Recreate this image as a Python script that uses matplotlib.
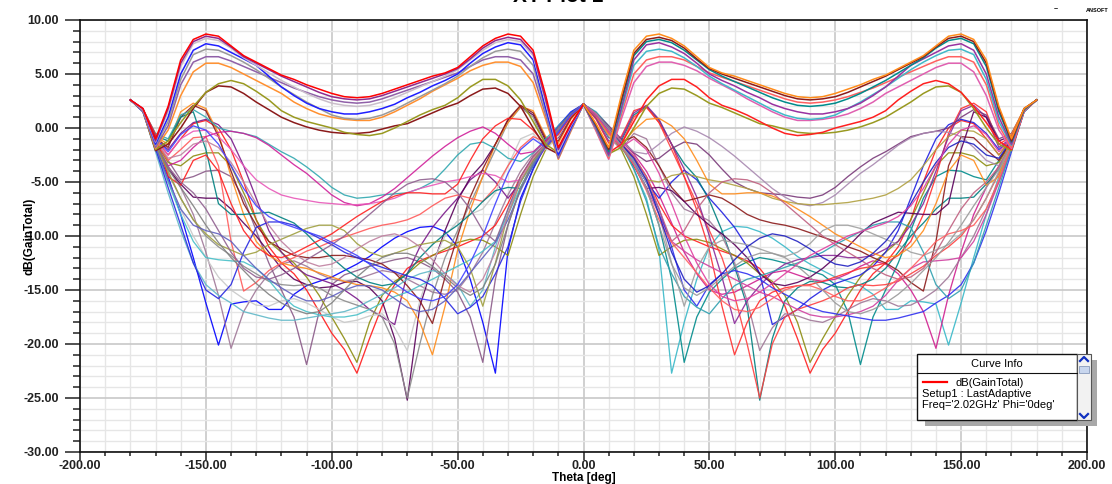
import matplotlib.pyplot as plt
from matplotlib.patches import Rectangle
from matplotlib.lines import Line2D
from matplotlib.ticker import MultipleLocator, FormatStrFormatter

plt.rcParams['font.family'] = ['Liberation Sans', 'DejaVu Sans']
plt.rcParams['font.weight'] = 'bold'

W, H = 1112, 484

# theta samples of the left half (deg); the right half is its mirror image
theta = list(range(-180, 5, 5))

# upper curves: lobes near -150 and -30
up_1 = [2.6, 1.8, -1.0, 2.0, 6.3, 8.2, 8.7, 8.5, 7.6,
        6.7, 6.1, 5.5, 4.9, 4.5, 4.0, 3.6, 3.2, 2.9,
        2.8, 2.9, 3.2, 3.6, 4.0, 4.4, 4.8, 5.1, 5.6,
        6.6, 7.6, 8.3, 8.7, 8.5, 7.2, 3.0, -1.8, 0.4, 2.2]
up_2 = [2.6, 1.8, -1.2, 1.8, 6.0, 8.0, 8.5, 8.3, 7.5,
        6.6, 6.0, 5.4, 4.8, 4.3, 3.8, 3.3, 2.9, 2.7,
        2.6, 2.7, 3.0, 3.4, 3.8, 4.2, 4.6, 5.0, 5.5,
        6.4, 7.4, 8.1, 8.4, 8.2, 6.9, 2.6, -2.0, 0.3, 2.2]
up_3 = [2.6, 1.7, -1.3, 1.5, 5.7, 7.8, 8.3, 8.1, 7.4,
        6.5, 5.8, 5.1, 4.4, 3.8, 3.2, 2.7, 2.3, 2.1,
        2.0, 2.1, 2.4, 2.8, 3.3, 3.8, 4.3, 4.8, 5.4,
        6.3, 7.2, 7.9, 8.2, 8.0, 6.7, 2.3, -2.2, 0.2, 2.2]
up_4 = [2.6, 1.7, -1.5, 1.0, 5.0, 7.2, 7.8, 7.6, 7.0,
        6.4, 5.8, 4.8, 3.8, 3.0, 2.3, 1.8, 1.5, 1.3,
        1.3, 1.5, 1.8, 2.2, 2.8, 3.3, 3.9, 4.4, 5.0,
        6.0, 6.9, 7.5, 7.9, 7.7, 6.3, 1.8, -2.5, 0.0, 2.2]
up_5 = [2.6, 1.7, -1.6, 0.6, 4.5, 6.8, 7.3, 7.2, 6.7,
        6.1, 5.4, 4.6, 3.8, 3.1, 2.4, 1.8, 1.2, 0.9,
        0.8, 0.9, 1.2, 1.7, 2.3, 2.9, 3.5, 4.1, 4.8,
        5.7, 6.5, 7.1, 7.3, 7.1, 5.8, 1.5, -2.6, -0.1, 2.2]
up_6 = [2.6, 1.6, -1.8, 0.2, 4.0, 6.1, 6.6, 6.6, 6.2,
        5.7, 5.2, 4.7, 4.2, 3.7, 3.3, 2.9, 2.6, 2.4,
        2.3, 2.4, 2.7, 3.1, 3.5, 3.9, 4.3, 4.7, 5.1,
        5.7, 6.3, 6.6, 6.6, 6.3, 5.0, 1.2, -2.8, -0.2, 2.2]
up_7 = [2.6, 1.6, -1.9, -0.2, 3.0, 5.2, 6.0, 6.0, 5.6,
        5.0, 4.4, 3.8, 3.2, 2.4, 1.8, 1.3, 1.0, 0.8,
        0.7, 0.7, 1.0, 1.5, 2.1, 2.7, 3.4, 4.0, 4.6,
        5.3, 5.8, 6.1, 6.1, 5.7, 4.2, 0.8, -2.9, -0.3, 2.2]
up_8 = [2.6, 1.6, -2.0, -1.2, 0.5, 2.0, 3.3, 4.1, 4.4,
        4.1, 3.4, 2.6, 1.6, 1.0, 0.6, 0.3, 0.0, -0.4,
        -0.6, -0.7, -0.5, 0.0, 0.6, 1.2, 1.7, 2.1, 2.8,
        3.8, 4.5, 4.5, 3.9, 2.6, 0.6, -1.5, -2.3, 0.0, 2.2]
up_9 = [2.6, 1.6, -2.1, -1.5, 0.0, 1.8, 3.3, 3.9, 3.8,
        3.2, 2.4, 1.7, 1.0, 0.5, 0.1, -0.2, -0.4, -0.5,
        -0.5, -0.4, -0.1, 0.2, 0.4, 0.9, 1.4, 1.9, 2.3,
        3.0, 3.6, 3.7, 3.2, 2.0, 0.0, -1.8, -2.4, 0.0, 2.2]

upper = [up_9, up_8, up_7, up_6, up_5, up_4, up_3, up_2, up_1]
upper_left_colors = ['#8B1A1A', '#999920', '#FF9030', '#9060A8', '#9A9A9A',
                     '#1F1FFF', '#CABECA', '#8E2A8E', '#FF0000']
upper_right_colors = ['#999920', '#FF2020', '#E060B0', '#FF6060', '#40B8C8',
                      '#9932A0', '#008B8B', '#8B1A1A', '#FF8C1A']

# lower curves
low_1 = [2.6, 1.5, -1.8, -4.5, -8.0, -12.0, -16.2, -20.1, -16.3,
         -16.1, -16.0, -16.8, -16.8, -15.4, -14.6, -14.2, -13.8, -13.2,
         -12.6, -11.9, -11.0, -10.2, -9.6, -9.2, -9.1, -9.6, -11.0,
         -14.0, -18.0, -22.7, -11.3, -6.5, -3.8, -1.4, 0.2, 1.5, 2.2]
low_2 = [2.6, 1.6, -1.5, -3.5, -5.5, -8.0, -11.5, -15.5, -20.4,
         -17.0, -15.0, -13.5, -12.6, -12.3, -12.8, -13.5, -14.0, -14.2,
         -14.0, -13.6, -13.2, -13.4, -14.0, -14.6, -15.2, -15.4, -15.0,
         -13.5, -11.5, -8.8, -6.2, -4.0, -2.4, -1.2, 0.0, 1.3, 2.2]
low_3 = [2.6, 1.7, -1.2, -3.0, -4.8, -4.5, -4.0, -3.9, -4.5,
         -6.5, -9.5, -12.5, -15.0, -17.5, -21.9, -17.0, -14.5, -13.6,
         -13.2, -12.8, -12.5, -12.2, -12.0, -12.4, -13.0, -14.0, -15.2,
         -17.5, -21.7, -14.0, -9.0, -5.5, -3.3, -1.8, -0.2, 1.3, 2.2]
low_4 = [2.6, 1.6, -1.0, -2.5, -1.0, 0.4, 0.7, 0.0, -2.0,
         -5.0, -8.5, -11.0, -12.5, -13.5, -15.0, -17.0, -19.0, -20.5,
         -22.7, -19.5, -16.5, -14.5, -13.0, -12.3, -11.8, -11.4, -11.0,
         -10.5, -10.0, -9.0, -7.0, -4.5, -2.7, -1.5, 0.0, 1.3, 2.2]
low_5 = [2.6, 1.6, -1.3, -3.2, -3.5, -2.6, -2.3, -2.3, -3.5,
         -6.0, -8.5, -10.5, -11.5, -12.5, -13.8, -15.5, -17.5, -19.5,
         -21.7, -18.0, -15.5, -14.2, -13.5, -12.5, -11.8, -11.2, -10.6,
         -10.3, -10.4, -11.0, -11.8, -8.0, -4.5, -2.0, -0.4, 1.2, 2.2]
low_6 = [2.6, 1.7, -1.0, -2.0, -0.5, 0.5, 0.8, 0.3, -1.0,
         -3.5, -6.5, -9.5, -11.5, -12.8, -13.6, -14.0, -14.4, -15.0,
         -15.8, -16.8, -17.5, -18.2, -13.5, -11.0, -9.2, -7.8, -6.5,
         -4.8, -3.9, -5.0, -6.5, -5.0, -3.0, -1.5, -0.2, 1.3, 2.2]
low_7 = [2.6, 1.6, -1.4, -3.8, -5.2, -6.4, -6.5, -6.5, -7.5,
         -8.8, -10.0, -11.5, -13.0, -14.0, -14.5, -14.8, -14.7, -14.3,
         -14.2, -14.8, -16.0, -19.5, -25.2, -16.5, -12.8, -9.5, -6.7,
         -4.6, -3.3, -1.5, 0.7, 2.0, 1.2, -1.2, -0.9, 1.0, 2.2]
low_8 = [2.6, 1.6, -1.6, -4.2, -6.5, -8.5, -10.0, -11.0, -11.8,
         -12.8, -13.5, -14.2, -14.5, -14.6, -14.5, -14.8, -15.5, -16.0,
         -16.4, -16.8, -17.5, -20.0, -25.0, -20.0, -15.5, -12.0, -9.5,
         -7.0, -4.5, -2.0, 0.5, 1.9, 1.0, -1.5, -0.5, 1.2, 2.2]
low_9 = [2.6, 1.5, -2.0, -5.0, -7.5, -10.0, -12.0, -13.8, -15.0,
         -15.8, -16.4, -16.5, -16.0, -15.8, -16.2, -16.8, -17.5, -18.0,
         -17.8, -17.4, -17.2, -18.5, -20.6, -16.0, -12.5, -10.0, -8.6,
         -8.0, -7.5, -6.0, -3.5, -1.0, -0.5, -2.0, -0.8, 1.1, 2.2]
low_10 = [2.6, 1.7, -0.8, -1.5, 1.5, 2.3, 1.8, -0.5, -4.5,
          -8.0, -10.5, -11.8, -12.5, -12.8, -13.0, -13.4, -13.8, -14.2,
          -14.5, -14.6, -14.8, -15.2, -16.0, -18.0, -21.0, -16.5, -11.3,
          -7.6, -4.5, -1.5, 0.5, 2.0, 1.6, -0.8, -1.4, 0.8, 2.2]
low_11 = [2.6, 1.7, -0.9, -1.8, 1.0, 2.1, 1.6, -0.8, -4.0,
          -7.0, -9.0, -10.5, -11.2, -11.8, -12.0, -12.0, -11.8, -11.8,
          -12.0, -12.2, -12.6, -13.4, -14.6, -16.0, -18.1, -13.8, -10.0,
          -6.4, -3.8, -1.5, 0.8, 2.1, 1.4, -1.0, -1.2, 0.9, 2.2]
low_12 = [2.6, 1.6, -1.2, -3.0, -2.0, -0.9, -0.8, -3.5, -10.5,
          -15.1, -14.3, -13.2, -12.5, -12.0, -11.4, -11.0, -10.5, -10.1,
          -9.7, -9.3, -9.0, -8.8, -8.5, -8.0, -7.2, -6.5, -6.2,
          -6.5, -6.8, -5.5, -3.5, -1.8, -0.8, -1.3, -0.3, 1.2, 2.2]
low_13 = [2.6, 1.7, -0.5, -1.0, 1.2, 1.7, 1.0, 0.0, -0.3,
          -0.5, -0.8, -1.5, -2.2, -2.8, -3.6, -4.5, -5.5, -6.2,
          -6.5, -6.4, -6.2, -6.1, -6.0, -5.6, -5.0, -3.8, -2.5,
          -1.5, -1.3, -1.9, -2.8, -3.1, -2.3, -1.0, 0.2, 1.4, 2.2]
low_14 = [2.6, 1.6, -1.5, -3.5, -3.0, -1.8, -0.8, -0.4, -0.3,
          -0.5, -0.9, -1.6, -2.5, -3.4, -4.2, -5.2, -6.2, -6.9,
          -7.2, -7.0, -6.4, -5.6, -4.6, -3.6, -2.6, -1.7, -0.9,
          -0.3, 0.1, -0.5, -1.5, -2.4, -2.2, -1.2, 0.0, 1.3, 2.2]
low_15 = [2.6, 1.7, -1.0, -2.5, -1.0, -0.3, -0.2, -0.8, -2.0,
          -3.5, -4.8, -5.6, -6.2, -6.5, -6.7, -6.9, -7.0, -7.1,
          -7.1, -7.0, -6.8, -6.5, -6.0, -5.6, -5.3, -5.0, -4.8,
          -4.5, -4.2, -4.4, -5.0, -4.8, -3.5, -1.8, -0.3, 1.2, 2.2]
low_16 = [2.6, 1.7, -0.7, -1.2, 1.0, 1.5, -2.0, -7.0, -8.0,
          -8.0, -7.9, -7.8, -8.3, -8.8, -9.8, -11.0, -12.0, -13.0,
          -13.8, -14.3, -14.6, -14.4, -13.5, -12.0, -10.8, -9.8, -9.0,
          -8.0, -6.8, -5.8, -5.5, -5.6, -3.5, -1.5, -0.1, 1.3, 2.2]
low_17 = [2.6, 1.6, -1.8, -5.0, -8.0, -10.5, -12.0, -12.2, -12.3,
          -12.4, -13.0, -14.1, -15.5, -16.5, -17.0, -17.3, -17.5, -17.5,
          -17.3, -16.8, -16.2, -15.6, -15.2, -14.6, -14.0, -13.4, -12.8,
          -12.2, -11.4, -10.5, -8.0, -5.5, -3.4, -1.6, -0.1, 1.3, 2.2]
low_18 = [2.6, 1.5, -2.2, -6.0, -9.5, -12.5, -14.5, -15.5, -16.2,
          -17.0, -17.3, -17.6, -17.8, -17.8, -17.6, -17.4, -17.2, -17.0,
          -16.6, -16.0, -15.4, -14.8, -14.0, -13.5, -13.2, -13.5, -14.5,
          -16.5, -15.0, -11.0, -7.5, -5.0, -3.2, -1.7, -0.2, 1.2, 2.2]
low_19 = [2.6, 1.5, -1.9, -5.5, -9.0, -12.5, -15.0, -15.8, -14.5,
          -11.5, -9.2, -8.7, -8.7, -9.0, -9.6, -10.2, -10.8, -11.5,
          -12.0, -12.5, -12.9, -13.3, -13.7, -14.0, -14.6, -15.8, -17.2,
          -16.6, -15.6, -13.5, -11.0, -6.8, -3.8, -1.6, 0.0, 1.4, 2.2]
low_20 = [2.6, 1.8, -0.6, -4.5, -5.3, -3.0, -2.5, -4.0, -7.0,
          -9.5, -11.0, -11.8, -12.0, -11.6, -11.0, -10.4, -9.8, -9.0,
          -8.2, -7.5, -6.8, -6.3, -6.0, -6.0, -6.1, -6.1, -5.2,
          -3.0, -1.0, 0.2, 0.9, 0.8, -0.2, -1.6, -0.6, 1.1, 2.2]
low_21 = [2.6, 1.6, -1.6, -4.0, -6.5, -8.5, -9.8, -10.8, -11.3,
          -11.8, -11.5, -10.8, -10.3, -9.8, -9.3, -9.0, -9.0, -9.5,
          -10.7, -11.5, -11.9, -11.6, -11.2, -10.8, -10.6, -10.4, -11.0,
          -13.0, -16.5, -12.5, -8.0, -5.0, -3.0, -1.6, -0.2, 1.2, 2.2]
low_22 = [2.6, 1.6, -1.4, -3.6, -5.0, -6.0, -7.5, -9.5, -11.5,
          -13.0, -13.8, -14.0, -13.6, -13.0, -12.2, -11.5, -10.8, -10.0,
          -9.0, -8.0, -7.0, -6.0, -5.2, -4.8, -4.7, -5.0, -6.0,
          -7.5, -9.5, -10.5, -7.5, -4.5, -2.6, -1.4, 0.0, 1.3, 2.2]
low_23 = [2.6, 1.6, -1.7, -4.8, -7.5, -9.0, -9.5, -9.8, -10.5,
          -11.8, -13.0, -14.0, -14.8, -15.5, -16.0, -16.0, -15.6, -15.0,
          -14.6, -14.6, -15.0, -15.8, -16.6, -17.0, -16.8, -16.0, -14.8,
          -13.4, -12.0, -10.6, -8.5, -5.8, -3.4, -1.7, -0.2, 1.3, 2.2]
low_24 = [2.6, 1.7, -1.1, -2.8, -2.5, -1.5, -1.2, -1.8, -3.2,
          -5.0, -7.0, -9.0, -10.5, -11.6, -12.4, -12.8, -12.6, -12.0,
          -11.2, -10.5, -10.0, -9.8, -10.2, -11.0, -12.2, -13.5, -14.6,
          -15.2, -14.0, -11.5, -8.0, -4.8, -2.8, -1.5, -0.1, 1.2, 2.2]
low_25 = [2.6, 1.6, -1.4, -3.8, -5.5, -7.2, -9.0, -10.6, -12.0,
          -13.2, -14.4, -15.4, -16.2, -16.8, -17.2, -17.0, -16.2, -15.0,
          -13.8, -12.8, -12.0, -11.6, -11.6, -12.0, -12.8, -13.8, -14.8,
          -15.5, -14.8, -12.6, -9.0, -5.6, -3.2, -1.6, -0.1, 1.3, 2.2]
low_26 = [2.6, 1.7, -0.9, -2.2, -0.6, 0.2, -0.2, -1.5, -3.5,
          -5.6, -7.2, -8.2, -8.8, -9.2, -9.6, -10.0, -10.6, -11.2,
          -11.8, -12.6, -13.5, -14.4, -15.2, -15.8, -16.0, -15.6, -14.5,
          -12.5, -10.0, -7.0, -4.2, -2.0, -1.0, -1.8, -0.4, 1.2, 2.2]

lower = [low_1, low_2, low_3, low_4, low_5, low_6, low_7, low_8, low_9, low_10, low_11,
         low_12, low_13, low_14, low_15, low_16, low_17, low_18, low_19, low_20, low_21,
         low_22, low_23, low_24, low_25, low_26]
lower_left_colors = ['#0000FF', '#A07898', '#8A5A88', '#FF1A1A', '#8C8C10', '#7A1A8A',
                     '#5A005A', '#8C8C8C', '#C8C8C8', '#FF8C1A', '#8B1A1A', '#FF5A5A',
                     '#30A8B0', '#D0209A', '#E858B8', '#008080', '#48C0C8', '#60B8C8',
                     '#2828E0', '#FF2020', '#A0A040', '#906090', '#6060C0', '#C080A0',
                     '#808080', '#4040FF']
lower_right_colors = ['#38B8C8', '#D02090', '#008B8B', '#FF2020', '#8C8C10', '#2020E0',
                      '#008080', '#FF4040', '#A07898', '#FF3030', '#8A2A9A', '#8B1A1A',
                      '#7A3A7A', '#A888B0', '#B0A040', '#5A005A', '#D040A0', '#3030F0',
                      '#30A0B0', '#FF8C1A', '#A0A0A0', '#C06080', '#FF6060', '#2020C0',
                      '#9A9A9A', '#E040A0']

theta_mirror = [-t for t in theta]

fig = plt.figure(figsize=(W / 100, H / 100), dpi=100)
ax = fig.add_axes([80 / W, 1 - 452 / H, (1087 - 80) / W, (452 - 20) / H])

for vals, cl, cr in zip(lower, lower_left_colors, lower_right_colors):
    ax.plot(theta, vals, color=cl, lw=0.95, alpha=0.9, solid_joinstyle='round')
    ax.plot(theta_mirror, vals, color=cr, lw=0.95, alpha=0.9, solid_joinstyle='round')
for vals, cl, cr in zip(upper, upper_left_colors, upper_right_colors):
    ax.plot(theta, vals, color=cl, lw=1.1, solid_joinstyle='round')
    ax.plot(theta_mirror, vals, color=cr, lw=1.1, solid_joinstyle='round')

ax.set_xlim(-200, 200)
ax.set_ylim(-30, 10)
ax.xaxis.set_major_locator(MultipleLocator(50))
ax.xaxis.set_minor_locator(MultipleLocator(10))
ax.yaxis.set_major_locator(MultipleLocator(5))
ax.yaxis.set_minor_locator(MultipleLocator(1))
ax.xaxis.set_major_formatter(FormatStrFormatter('%.2f'))
ax.yaxis.set_major_formatter(FormatStrFormatter('%.2f'))
ax.set_axisbelow(True)
ax.grid(which='minor', color='#E6E6E6', lw=1.0)
ax.grid(which='major', color='#C8C8C8', lw=1.2)
ax.tick_params(axis='y', which='major', length=11, width=1.1, labelsize=9, pad=4, colors='#222222')
ax.tick_params(axis='y', which='minor', length=5, width=1.1, colors='#222222')
ax.tick_params(axis='x', which='major', length=6, width=1.1, labelsize=9, pad=0, colors='#222222')
ax.tick_params(axis='x', which='minor', length=3, width=1.1, colors='#222222')
for s in ax.spines.values():
    s.set_linewidth(1.2)
    s.set_color('#111111')


def fx(x):
    return x / W


def fy(y):
    return 1 - y / H


fig.text(fx(583.5), fy(477.5), 'Theta [deg]', fontsize=8.5, ha='center', va='center')
fig.text(fx(30), fy(236), 'dB(GainTotal)', fontsize=8.5, rotation=90, ha='center', va='center')
fig.text(fx(558), fy(-4), 'XY Plot 1', fontsize=15, ha='center', va='center')
fig.text(fx(1097), fy(11), 'ANSOFT', fontsize=4, ha='center', va='center')
fig.text(fx(1056), fy(10), '~', fontsize=5, ha='center', va='center')


def box(x0, y0, x1, y1, **kw):
    fig.add_artist(Rectangle((fx(x0), fy(y1)), (x1 - x0) / W, (y1 - y0) / H,
                             transform=fig.transFigure, **kw))


# curve info box
box(925, 360, 1097, 426, facecolor='#A8A8A8', edgecolor='none')
box(917, 354, 1077, 420, facecolor='white', edgecolor='#111111', lw=1.0)
box(1077, 354, 1091, 420, facecolor='#F2F2F2', edgecolor='#555555', lw=0.8)
box(1079, 366, 1089, 373, facecolor='#C8D6EE', edgecolor='#8899BB', lw=0.6)
fig.add_artist(Line2D([fx(917), fx(1077)], [fy(373), fy(373)], transform=fig.transFigure,
                      color='#111111', lw=0.8))
fig.add_artist(Line2D([fx(1080), fx(1084), fx(1088)], [fy(361), fy(357), fy(361)],
                      transform=fig.transFigure, color='#1030C0', lw=1.6))
fig.add_artist(Line2D([fx(1080), fx(1084), fx(1088)], [fy(414), fy(418), fy(414)],
                      transform=fig.transFigure, color='#1030C0', lw=1.6))
fig.add_artist(Line2D([fx(923), fx(947)], [fy(382), fy(382)], transform=fig.transFigure,
                      color='#FF0000', lw=1.6))
fig.text(fx(997), fy(364), 'Curve Info', fontsize=8, fontweight='normal', ha='center', va='center')
fig.text(fx(956), fy(382.5), 'dB(GainTotal)', fontsize=8, fontweight='normal', va='center')
fig.text(fx(922.5), fy(394), 'Setup1 : LastAdaptive', fontsize=8, fontweight='normal', va='center')
fig.text(fx(922.5), fy(405.5), "Freq='2.02GHz' Phi='0deg'", fontsize=8, fontweight='normal', va='center')

fig.savefig('out.png', dpi=100)
